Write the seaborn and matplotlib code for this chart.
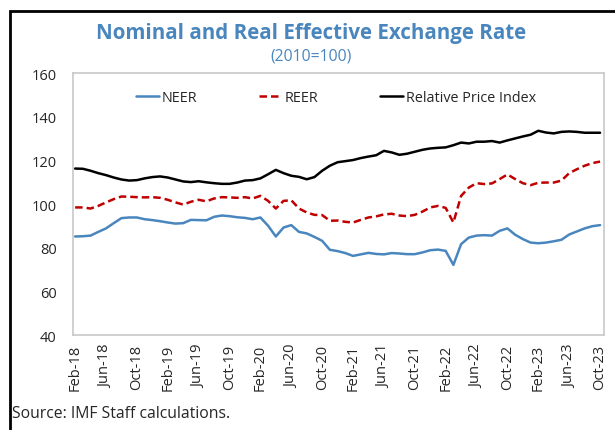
import matplotlib.pyplot as plt
import seaborn as sns
import pandas as pd
from matplotlib.patches import Rectangle

months = pd.date_range('2018-02-01', '2023-10-01', freq='MS')
tick_labels = [d.strftime('%b-%y') for d in months[::4]]

neer = [85.2, 85.3, 85.6, 87.3, 88.9, 91.3, 93.6, 93.9, 93.9, 93.1, 92.7, 92.2,
        91.6, 91.1, 91.3, 92.8, 92.7, 92.6, 94.2, 94.8, 94.5, 94.0, 93.7, 93.1,
        93.9, 90.1, 85.2, 89.3, 90.4, 87.3, 86.6, 85.0, 83.2, 79.1, 78.5, 77.6,
        76.3, 77.0, 77.7, 77.2, 77.0, 77.6, 77.4, 77.1, 77.1, 77.9, 78.9, 79.2,
        78.6, 72.2, 81.7, 84.7, 85.6, 85.8, 85.6, 87.8, 88.9, 86.0, 84.0, 82.4,
        82.1, 82.4, 83.0, 83.7, 86.1, 87.5, 88.9, 89.9, 90.4]
reer = [98.5, 98.5, 98.0, 99.2, 100.8, 102.3, 103.5, 103.4, 103.2, 103.1, 103.2, 102.9,
        102.0, 100.8, 99.8, 101.1, 102.0, 101.3, 102.6, 103.2, 103.1, 102.9, 103.2, 102.6,
        103.8, 101.5, 98.0, 101.5, 101.8, 98.0, 96.2, 95.1, 95.0, 92.4, 92.5, 91.9,
        91.6, 92.8, 93.9, 94.4, 95.3, 95.6, 94.8, 94.5, 95.1, 96.6, 98.5, 99.2,
        98.3, 91.6, 103.8, 107.6, 109.6, 109.2, 109.5, 111.5, 113.6, 111.5, 109.6, 108.7,
        109.8, 109.9, 109.9, 110.8, 114.2, 116.0, 117.6, 118.8, 119.5]
rpi = [116.3, 116.2, 115.3, 114.2, 113.3, 112.2, 111.3, 110.8, 111.0, 111.8, 112.4, 112.7,
       112.2, 111.3, 110.4, 110.1, 110.5, 110.0, 109.6, 109.3, 109.3, 109.9, 110.8, 111.0,
       111.8, 113.7, 115.7, 114.2, 113.0, 112.5, 111.4, 112.4, 115.3, 117.6, 119.2, 119.7,
       120.2, 121.1, 121.8, 122.4, 124.4, 123.7, 122.6, 123.1, 124.0, 124.9, 125.5, 125.8,
       126.0, 127.0, 128.2, 127.8, 128.6, 128.6, 128.9, 128.2, 129.2, 130.1, 131.0, 131.8,
       133.6, 132.8, 132.4, 133.1, 133.3, 133.1, 132.7, 132.7, 132.7]

df = pd.DataFrame({'idx': range(len(months)), 'NEER': neer, 'REER': reer,
                   'Relative Price Index': rpi})

sns.set_style('white')
plt.rcParams['font.family'] = ['Open Sans', 'DejaVu Sans']

fig = plt.figure(figsize=(6.15, 4.31), dpi=100)
ax = fig.add_axes([0.119, 0.220, 0.863, 0.608])

blue = '#4A86BE'
sns.lineplot(data=df, x='idx', y='NEER', ax=ax, color=blue, linewidth=1.8, label='NEER')
sns.lineplot(data=df, x='idx', y='REER', ax=ax, color='#C00000', linewidth=1.8,
             label='REER', dashes=False)
ax.lines[-1].set_dashes((3, 1.6))
sns.lineplot(data=df, x='idx', y='Relative Price Index', ax=ax, color='black',
             linewidth=1.8, label='Relative Price Index')

ax.set_xlim(-0.25, 68.5)
ax.set_ylim(40, 160)
ax.set_yticks(range(40, 161, 20))
ax.set_xticks(range(0, len(months), 4))
ax.set_xticklabels(tick_labels, rotation=90, fontsize=10.5)
ax.tick_params(axis='y', labelsize=10.5, pad=12)
ax.tick_params(axis='x', pad=6)
ax.tick_params(direction='in', length=4, color='#BFBFBF', width=1)
ax.set_xlabel('')
ax.set_ylabel('')
for s in ax.spines.values():
    s.set_color('#C8C8C8')
    s.set_linewidth(1.2)

ax.legend(loc='center', ncol=3, frameon=False, fontsize=10.4,
          bbox_to_anchor=(0.495, 0.908), handlelength=1.6, columnspacing=4.3,
          handletextpad=0.15)

fig.text(0.506, 0.923, 'Nominal and Real Effective Exchange Rate', ha='center',
         va='center', fontsize=14.8, fontweight='bold', color=blue)
fig.text(0.505, 0.870, '(2010=100)', ha='center', va='center', fontsize=11.3, color=blue)
fig.text(0.02, 0.040, 'Source: IMF Staff calculations.', ha='left', va='center', fontsize=11.3)

fig.patches.append(Rectangle((10 / 615, -0.2), 1.2, 1.2 - 12 / 431,
                             transform=fig.transFigure, fill=False,
                             edgecolor='black', linewidth=2))

fig.savefig('out.png', dpi=100)
